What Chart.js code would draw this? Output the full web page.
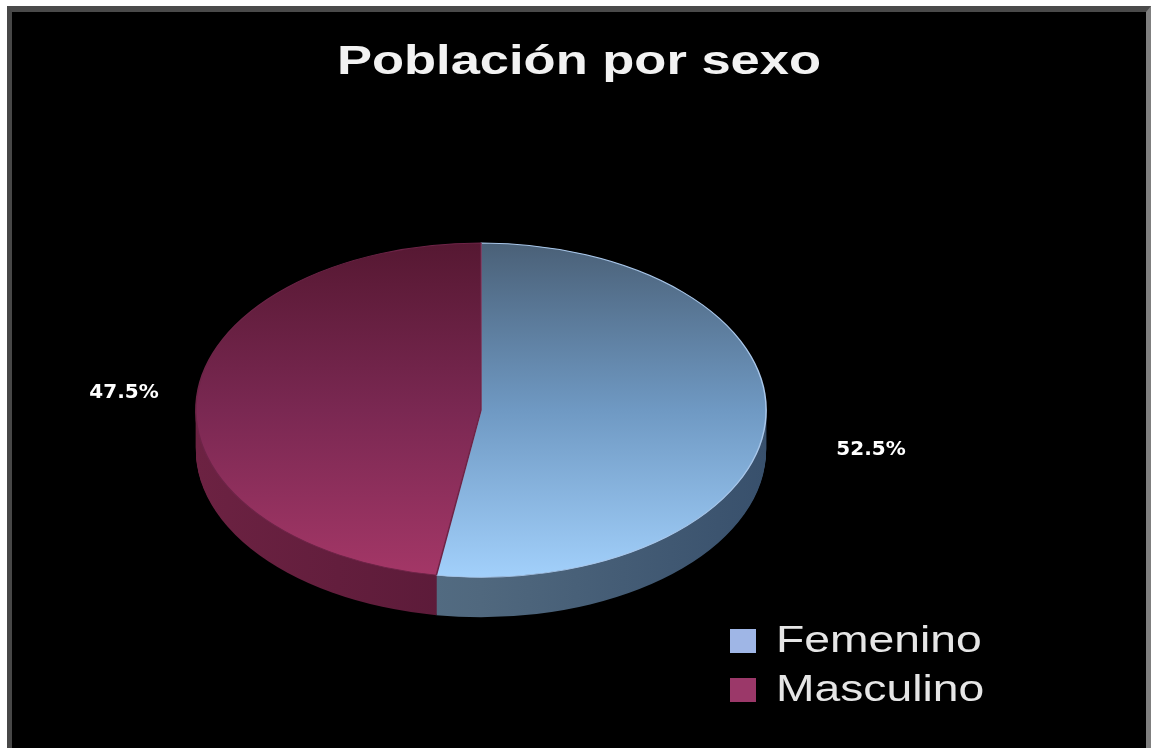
<!DOCTYPE html>
<html>
<head>
<meta charset="utf-8">
<title>Población por sexo</title>
<script src="https://cdn.jsdelivr.net/npm/chart.js@4.4.1/dist/chart.umd.min.js"></script>
<style>
  html, body { margin: 0; padding: 0; background: #fff; }
  #frame {
    position: absolute;
    left: 7px;
    top: 6px;
    width: 1134px;
    height: 736px;
    border-left: 5px solid #474747;
    border-top: 6px solid #4a4a4a;
    border-right: 5px solid #7f7f7f;
    background: #000;
  }
  #wrap { position: relative; width: 1134px; height: 736px; }
</style>
</head>
<body>
<div id="frame"><div id="wrap"><canvas id="chart"></canvas></div></div>
<script>
// población por sexo, en porcentaje
const categories = ['Femenino', 'Masculino'];
const shares = [52.5, 47.5];

// top face gradients (top -> bottom of the ellipse)
const faceStops = [
  ['#4a6077', '#6f99c3', '#a2d0fb'],
  ['#561832', '#7a2852', '#a43767']
];
// side wall colours (left -> right)
const sideStops = [
  ['#5c7a92', '#50687e', '#38506c'],
  ['#6c2242', '#5a1a38', '#4e1530']
];
const rimColors = ['#a9c7ea', '#6d2447'];
const legendColors = ['#9fb6e6', '#9b3869'];

const TILT = 0.586;        // vertical squash of the pie
const DEPTH = 40;          // thickness of the pie in px
const TEXT_STRETCH = 1.28; // wide lettering for title and legend

function faceGradient(c) {
  const chart = c.chart;
  const area = chart.chartArea;
  if (!area) return faceStops[c.dataIndex][1];
  const cy = (area.top + area.bottom) / 2;
  const r = Math.min(area.width, area.height) / 2;
  const g = chart.ctx.createLinearGradient(0, cy - r, 0, cy + r);
  const s = faceStops[c.dataIndex];
  g.addColorStop(0, s[0]);
  g.addColorStop(0.5, s[1]);
  g.addColorStop(1, s[2]);
  return g;
}

const pie3d = {
  id: 'pie3d',
  beforeDraw(chart) {
    // title box follows the padded area; recentre it on the canvas and widen it
    const ctx = chart.ctx;
    const tb = chart.titleBlock;
    const from = tb ? (tb.left + tb.right) / 2 : chart.width / 2;
    ctx.save();
    ctx.translate(chart.width / 2, 0);
    ctx.scale(TEXT_STRETCH, 1);
    ctx.translate(-from, 0);
  },
  beforeDatasetsDraw(chart) {
    const ctx = chart.ctx;
    ctx.restore();
    const arcs = chart.getDatasetMeta(0).data;
    const cx = arcs[0].x, cy = arcs[0].y;

    // side wall: stack the slices downward, the top face hides the back
    for (let dy = DEPTH; dy > 0; dy--) {
      arcs.forEach((arc, i) => {
        const r = arc.outerRadius;
        ctx.save();
        ctx.translate(cx, cy + dy);
        ctx.scale(1, TILT);
        const g = ctx.createLinearGradient(-r, 0, r, 0);
        g.addColorStop(0, sideStops[i][0]);
        g.addColorStop(0.5, sideStops[i][1]);
        g.addColorStop(1, sideStops[i][2]);
        ctx.beginPath();
        ctx.moveTo(0, 0);
        ctx.arc(0, 0, r, arc.startAngle, arc.endAngle);
        ctx.closePath();
        ctx.fillStyle = g;
        ctx.fill();
        ctx.restore();
      });
    }

    // squash the top face into an ellipse
    ctx.save();
    ctx.translate(cx, cy);
    ctx.scale(1, TILT);
    ctx.translate(-cx, -cy);
  },
  afterDatasetsDraw(chart, args, opts) {
    const ctx = chart.ctx;
    ctx.restore();

    // percentage labels outside the slices
    const arcs = chart.getDatasetMeta(0).data;
    const values = chart.data.datasets[0].data;
    ctx.save();
    ctx.font = 'bold 20px "DejaVu Sans"';
    ctx.fillStyle = '#fff';
    ctx.textAlign = 'center';
    ctx.textBaseline = 'middle';
    arcs.forEach((arc, i) => {
      const mid = (arc.startAngle + arc.endAngle) / 2;
      const d = arc.outerRadius + opts.gap;
      const x = arc.x + Math.cos(mid) * d + opts.nudge[i][0];
      const y = arc.y + Math.sin(mid) * d * TILT + opts.nudge[i][1];
      ctx.fillText(values[i].toFixed(1) + '%', x, y);
    });
    ctx.restore();
  },
  afterDraw(chart, args, opts) {
    // legend, bottom right
    const ctx = chart.ctx;
    ctx.save();
    ctx.font = '37px "Liberation Sans"';
    ctx.textBaseline = 'middle';
    ctx.textAlign = 'left';
    chart.data.labels.forEach((label, i) => {
      const y = opts.legendY + i * 49;
      ctx.fillStyle = legendColors[i];
      ctx.fillRect(opts.legendX, y - 12, 26, 24);
      ctx.save();
      ctx.translate(opts.legendX + 46, y + 1);
      ctx.scale(1.25, 1);
      ctx.fillStyle = '#e6e6e6';
      ctx.fillText(label, 0, 0);
      ctx.restore();
    });
    ctx.restore();
  }
};

new Chart(document.getElementById('chart'), {
  type: 'pie',
  data: {
    labels: categories,
    datasets: [{
      data: shares,
      backgroundColor: faceGradient,
      borderColor: rimColors,
      borderWidth: 1.5,
      clip: false
    }]
  },
  options: {
    responsive: true,
    maintainAspectRatio: false,
    animation: false,
    events: [],
    layout: { padding: { left: 183, right: 379, top: 0, bottom: 52 } },
    plugins: {
      legend: { display: false },
      tooltip: { enabled: false },
      title: {
        display: true,
        text: 'Población por sexo',
        color: '#f2f2f2',
        font: { family: '"Liberation Sans"', size: 41, weight: 'bold', lineHeight: 1.2 },
        padding: { top: 26, bottom: 37 }
      },
      pie3d: { gap: 90, nudge: [[16, 22], [17, 0]], legendX: 718, legendY: 629 }
    }
  },
  plugins: [pie3d]
});
</script>
</body>
</html>
